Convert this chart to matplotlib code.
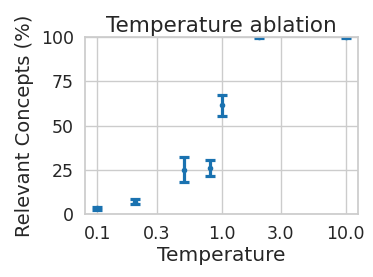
import matplotlib
matplotlib.use("Agg")
import matplotlib.pyplot as plt
import seaborn as sns
from matplotlib.ticker import NullLocator, FixedLocator, FixedFormatter

temperature = [0.1, 0.2, 0.5, 0.8, 1.0, 2.0, 10.0]
relevant = [3.2, 7.0, 25.0, 26.0, 61.5, 100.0, 100.0]
err = [1.0, 1.3, 7.0, 4.7, 6.0, 0.5, 0.5]
xticks = [0.1, 0.3, 1.0, 3.0, 10.0]
xticklabels = ["0.1", "0.3", "1.0", "3.0", "10.0"]
yticks = [0, 25, 50, 75, 100]

sns.set_theme(style="whitegrid")
plt.rcParams['font.family'] = ['DejaVu Sans']

fig = plt.figure(figsize=(3.73, 2.77), dpi=100)
ax = fig.add_axes([0.228, 0.227, 0.732, 0.639])
color = '#1a72b0'
ax.errorbar(temperature, relevant, yerr=err, fmt='o', color=color, markersize=3,
            elinewidth=2.3, capsize=3.5, capthick=2.3, clip_on=True)
ax.set_xscale('log')
ax.xaxis.set_major_locator(FixedLocator(xticks))
ax.xaxis.set_major_formatter(FixedFormatter(xticklabels))
ax.xaxis.set_minor_locator(NullLocator())
ax.set_ylim(0, 100)
ax.set_yticks(yticks)
ax.tick_params(labelsize=12.5, colors='#262626', pad=2)
ax.set_xlabel('Temperature', fontsize=14.5, color='#262626', labelpad=2)
ax.set_ylabel('Relevant Concepts (%)', fontsize=14, color='#262626', labelpad=5)
ax.set_title('Temperature ablation', fontsize=15.5, color='#262626', pad=4)
for s in ax.spines.values():
    s.set_color('#cccccc')
fig.savefig('out.png', dpi=100)
